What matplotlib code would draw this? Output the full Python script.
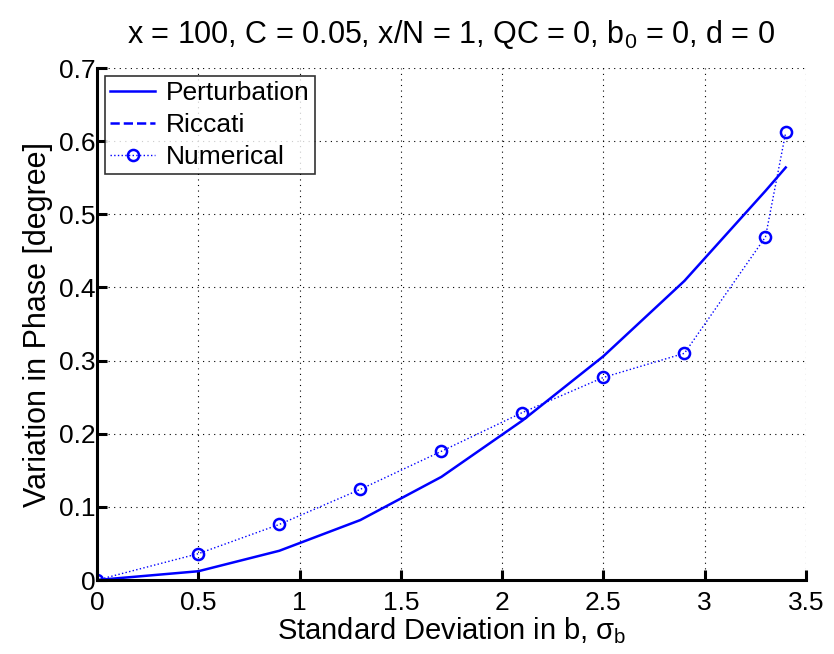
import numpy as np
import matplotlib
matplotlib.use('Agg')
import matplotlib.pyplot as plt

plt.rcParams['font.family'] = ['Liberation Sans', 'DejaVu Sans']
plt.rcParams['mathtext.fontset'] = 'custom'
plt.rcParams['mathtext.rm'] = 'Liberation Sans'
plt.rcParams['mathtext.it'] = 'Liberation Sans'

sigma = [0, 0.5, 0.9, 1.3, 1.7, 2.1, 2.5, 2.9, 3.3, 3.4]
perturbation = [0, 0.012, 0.040, 0.082, 0.141, 0.218, 0.306, 0.409, 0.532, 0.564]
riccati = [0, 0, 0, 0, 0, 0, 0, 0, 0, 0]
numerical = [0, 0.036, 0.076, 0.124, 0.176, 0.229, 0.277, 0.310, 0.469, 0.612]

fig = plt.figure(figsize=(8.34, 6.54), dpi=100)
ax = fig.add_axes([0.1163, 0.1131, 0.8501, 0.7829])

ax.plot(sigma, perturbation, '-', color='#0000ff', lw=1.8, label='Perturbation')
ax.plot(sigma, riccati, '--', color='#0000ff', lw=1.8, label='Riccati')
ax.plot(sigma, numerical, ':', color='#0000ff', lw=1.0, marker='o', ms=8,
        mfc='none', mec='#0000ff', mew=1.8, label='Numerical')

ax.set_xlim(0, 3.5)
ax.set_ylim(0, 0.7)
ax.set_xticks(np.arange(0, 3.51, 0.5))
ax.set_yticks(np.arange(0, 0.71, 0.1))
ax.set_xticklabels(['0', '0.5', '1', '1.5', '2', '2.5', '3', '3.5'])
ax.set_yticklabels(['0', '0.1', '0.2', '0.3', '0.4', '0.5', '0.6', '0.7'])
ax.grid(True, color='black', linestyle=(0, (1, 4)), lw=0.8)
ax.tick_params(direction='in', length=7, width=2.2, labelsize=19)
ax.tick_params(axis='x', pad=8)
ax.tick_params(axis='y', pad=1)

for s in ['top', 'right']:
    ax.spines[s].set_visible(False)
for s in ['left', 'bottom']:
    ax.spines[s].set_linewidth(2.2)

ax.set_xlabel('Standard Deviation in b, $\\sigma_\\mathrm{b}$', fontsize=21, labelpad=0)
ax.set_ylabel('Variation in Phase [degree]', fontsize=22, labelpad=4)
ax.set_title('x = 100, C = 0.05, x/N = 1, QC = 0, b$_0$ = 0, d = 0', fontsize=22, pad=18)

leg = ax.legend(loc='upper left', fontsize=19, frameon=True, fancybox=False,
                edgecolor='black', borderaxespad=0.3, handlelength=1.7,
                handletextpad=0.4, borderpad=0.2, labelspacing=0.3)
leg.get_frame().set_linewidth(1.2)

fig.savefig('out.png', dpi=100)
